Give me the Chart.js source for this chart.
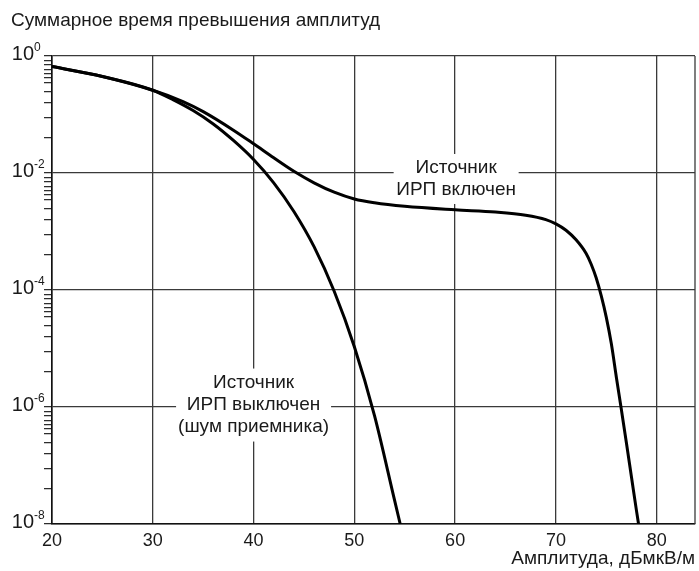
<!DOCTYPE html>
<html>
<head>
<meta charset="utf-8">
<script src="https://cdn.jsdelivr.net/npm/chart.js@4.4.1/dist/chart.umd.min.js"></script>
<style>
body { margin: 0; background: #fff; }
canvas { display: block; }
</style>
</head>
<body>
<canvas id="chart" width="699" height="571"></canvas>
<script>
// ------------------------------
// Data
// ------------------------------

// source on
const amplitudeOn = [20, 25, 30, 33, 35, 38, 40, 42, 44, 46, 48, 50, 52, 55, 60, 64, 67, 69, 70, 71, 72, 73, 73.5, 74, 74.5, 75, 75.5, 76, 76.5, 77, 77.5, 78, 78.2];
const timeOn = [0.66, 0.447, 0.26, 0.166, 0.112, 0.054, 0.0316, 0.0182, 0.0107, 6.8e-3, 4.7e-3, 3.6e-3, 3.1e-3, 2.7e-3, 2.35e-3, 2.15e-3, 1.9e-3, 1.6e-3, 1.35e-3, 1.05e-3, 7.2e-4, 4.2e-4, 2.75e-4, 1.6e-4, 7.9e-5, 3.4e-5, 1.2e-5, 3.2e-6, 8.9e-7, 2.4e-7, 6.3e-8, 1.66e-8, 1.0e-8];

// source off (receiver noise)
const amplitudeOff = [20, 25, 30, 32, 34, 36, 38, 40, 42, 44, 46, 48, 50, 52, 54, 54.55];
const timeOff = [0.66, 0.447, 0.26, 0.18, 0.117, 0.069, 0.036, 0.017, 6.8e-3, 2.2e-3, 5.5e-4, 9.5e-5, 1.07e-5, 7.1e-7, 2.5e-8, 1.0e-8];

const xTicks = [20, 30, 40, 50, 60, 70, 80];
const yTicks = [1, 1e-2, 1e-4, 1e-6, 1e-8];
const yTickExp = ["0", "-2", "-4", "-6", "-8"];
// small marks inside every two-decade step
const minorSteps = [0.82, 0.7, 0.59, 0.5, 0.42, 0.35, 0.25, 0.16, 0.09, 0.04];

const FONT = "'Liberation Sans', Arial, Helvetica, sans-serif";
const INK = "#1a1a1a";

const notes = [
    { x: 60.1, y: 7.9e-3, w: 125, h: 50, lines: ["Источник", "ИРП включен"] },
    { x: 40, y: 1.08e-6, w: 155, h: 73, lines: ["Источник", "ИРП выключен", "(шум приемника)"] }
];

function points(xs, ys) {
    return xs.map((x, i) => ({ x: x, y: ys[i] }));
}

const minorTicks = [];
yTicks.slice(0, -1).forEach(t => {
    minorSteps.forEach(m => minorTicks.push(t * m));
});


// ------------------------------
// Labels, notes and frame
// ------------------------------

const decorPlugin = {

id: "decor",

beforeDatasetsDraw(chart) {

    const ctx = chart.ctx;
    const xs = chart.scales.x;
    const ys = chart.scales.y;

    ctx.save();
    ctx.font = "19px " + FONT;
    ctx.textAlign = "center";
    ctx.textBaseline = "middle";

    notes.forEach(n => {
        const cx = xs.getPixelForValue(n.x);
        const cy = ys.getPixelForValue(n.y);
        ctx.fillStyle = "#fff";
        ctx.fillRect(cx - n.w / 2, cy - n.h / 2, n.w, n.h);
        ctx.fillStyle = INK;
        const gap = 22;
        const first = cy - gap * (n.lines.length - 1) / 2;
        n.lines.forEach((t, i) => ctx.fillText(t, cx, first + i * gap));
    });

    ctx.restore();
},

afterDraw(chart) {

    const ctx = chart.ctx;
    const area = chart.chartArea;
    const ys = chart.scales.y;

    ctx.save();

    // right edge of the frame
    ctx.strokeStyle = "#3a3a3a";
    ctx.lineWidth = 1.3;
    ctx.beginPath();
    ctx.moveTo(area.right, area.top);
    ctx.lineTo(area.right, area.bottom);
    ctx.stroke();

    // 10 with raised exponent
    ctx.fillStyle = INK;
    ctx.textBaseline = "middle";
    yTicks.forEach((v, i) => {
        const py = ys.getPixelForValue(v);
        ctx.font = "20px " + FONT;
        ctx.textAlign = "right";
        ctx.fillText("10", 34, py - 2);
        ctx.font = "12px " + FONT;
        ctx.textAlign = "left";
        ctx.fillText(yTickExp[i], 34, py - 8);
    });

    ctx.restore();
}

};


// ------------------------------
// Chart
// ------------------------------

const chart = new Chart(

document.getElementById("chart"),

{

type: "line",

data: {

datasets: [

{
label: "Источник ИРП включен",
data: points(amplitudeOn, timeOn),
borderColor: "#000",
borderWidth: 3,
pointRadius: 0,
cubicInterpolationMode: "monotone",
fill: false
},

{
label: "Источник ИРП выключен",
data: points(amplitudeOff, timeOff),
borderColor: "#000",
borderWidth: 3,
pointRadius: 0,
cubicInterpolationMode: "monotone",
fill: false
}

]

},

options: {

responsive: false,
animation: false,
devicePixelRatio: 1,

layout: {
padding: { left: 11, right: 4, top: 0, bottom: 0 }
},

plugins: {

legend: { display: false },
tooltip: { enabled: false },

title: {
display: true,
text: "Суммарное время превышения амплитуд",
align: "start",
color: INK,
font: { family: FONT, size: 19, weight: "normal" },
padding: { top: 9, bottom: 24.2 }
}

},

scales: {

x: {
type: "linear",
min: 20,
max: 83.8,
afterBuildTicks: s => { s.ticks = xTicks.map(v => ({ value: v })); },
afterFit: s => { s.height = 47; },
grid: { color: "#3a3a3a", lineWidth: 1.3, drawTicks: false },
border: { color: "#111", width: 1.6 },
ticks: {
color: INK,
font: { family: FONT, size: 18 },
padding: 6,
maxRotation: 0
},
title: {
display: true,
text: "Амплитуда, дБмкВ/м",
align: "end",
color: INK,
font: { family: FONT, size: 19 },
padding: { top: 0, bottom: 1 }
}
},

y: {
type: "logarithmic",
min: 1e-8,
max: 1,
afterBuildTicks: s => {
    s.ticks = yTicks.concat(minorTicks).map(v => ({ value: v }));
},
afterFit: s => { s.width = 41; },
grid: {
color: c => yTicks.includes(c.tick.value) ? "#3a3a3a" : "rgba(0,0,0,0)",
lineWidth: 1.3,
tickLength: 8,
tickColor: "#222",
tickWidth: 1.2
},
border: { color: "#111", width: 1.6 },
ticks: { display: false }
}

}

},

plugins: [decorPlugin]

});

</script>
</body>
</html>
